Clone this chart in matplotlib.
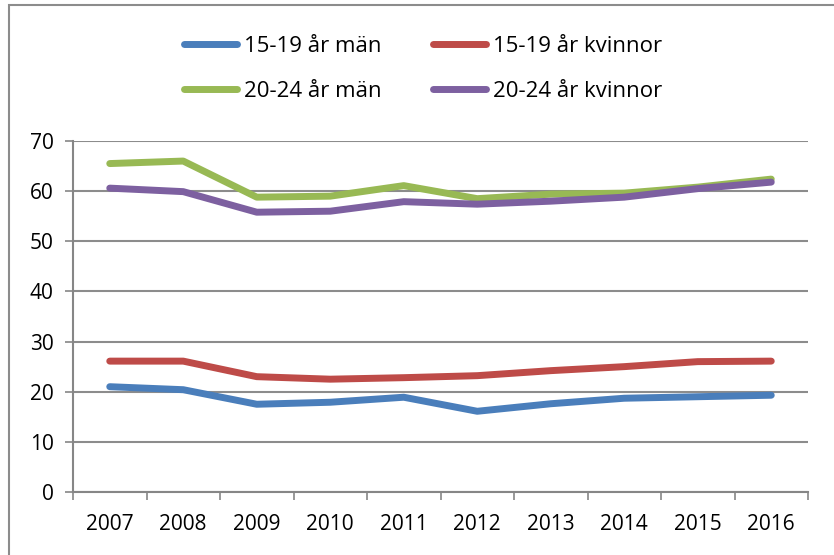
import matplotlib
matplotlib.use("Agg")
import matplotlib.pyplot as plt
from matplotlib.patches import Rectangle

years = ["2007", "2008", "2009", "2010", "2011", "2012", "2013", "2014", "2015", "2016"]
man_15_19 = [21.0, 20.4, 17.5, 17.9, 18.9, 16.1, 17.6, 18.7, 19.0, 19.3]
kvinnor_15_19 = [26.1, 26.1, 23.0, 22.5, 22.8, 23.2, 24.2, 25.0, 26.0, 26.1]
man_20_24 = [65.5, 66.0, 58.8, 59.0, 61.1, 58.5, 59.4, 59.6, 60.8, 62.4]
kvinnor_20_24 = [60.6, 59.9, 55.8, 56.0, 57.9, 57.4, 58.0, 58.8, 60.5, 61.8]

labels = ["15-19 år män", "15-19 år kvinnor", "20-24 år män", "20-24 år kvinnor"]
colors = ["#4a7ebb", "#be4b48", "#98b954", "#7d60a0"]

plt.rcParams['font.family'] = ['Open Sans', 'DejaVu Sans']

W, H = 834, 555
fig = plt.figure(figsize=(W / 100, H / 100), dpi=100)

# chart border
fig.patches.append(Rectangle((9 / W, -0.1), 1.0, (H - 5) / H + 0.1, transform=fig.transFigure,
                             fill=False, edgecolor="#8c8c8c", linewidth=1.5))

left, right = 73 / W, 808 / W
bottom, top = 1 - 492 / H, 1 - 141 / H
ax = fig.add_axes([left, bottom, right - left, top - bottom])

x = list(range(len(years)))
series = [man_15_19, kvinnor_15_19, man_20_24, kvinnor_20_24]
lines = []
for s, lab, c in zip(series, labels, colors):
    ln, = ax.plot(x, s, color=c, linewidth=5, solid_capstyle="round", solid_joinstyle="round", label=lab)
    lines.append(ln)

ax.set_xlim(-0.5, len(years) - 0.5)
ax.set_ylim(0, 70)
ax.set_yticks(range(0, 71, 10))
ax.set_xticks(x)
ax.set_xticklabels(years)
ax.set_xticks([i - 0.5 for i in range(len(years) + 1)], minor=True)
ax.tick_params(axis="x", which="major", length=0, pad=16, labelsize=15)
ax.tick_params(axis="x", which="minor", length=6, color="#868686", width=1.2, direction="out")
ax.tick_params(axis="y", length=6, color="#868686", width=1.2, labelsize=15, pad=8)
ax.grid(axis="y", color="#8c8c8c", linewidth=1.5)
ax.set_axisbelow(True)
for sp in ["top", "right"]:
    ax.spines[sp].set_visible(False)
for sp in ["left", "bottom"]:
    ax.spines[sp].set_color("#868686")
    ax.spines[sp].set_linewidth(1.5)

# row-wise order: matplotlib fills legend columns first
order = [0, 2, 1, 3]
fig.legend(handles=[lines[i] for i in order], labels=[labels[i] for i in order],
           loc="center", ncol=2,
           bbox_to_anchor=(0.507, 1 - 69 / H), frameon=False, fontsize=16,
           handlelength=2.4, handletextpad=0.3, columnspacing=2.3, labelspacing=1.1)

fig.savefig("out.png", dpi=100)
